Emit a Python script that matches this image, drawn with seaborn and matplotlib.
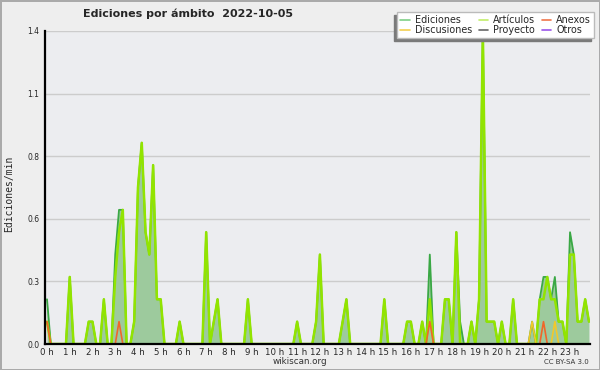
import numpy as np
import pandas as pd
import matplotlib
matplotlib.use("Agg")
import matplotlib.pyplot as plt
from matplotlib.lines import Line2D
from matplotlib.ticker import FixedLocator, MultipleLocator
import seaborn as sns

# ---- data: edits per minute, one value per 10-minute bin (6 per hour) ----
ediciones = [
    0.2, 0, 0, 0, 0, 0,          # 0 h
    0.3, 0, 0, 0, 0, 0.1,        # 1 h
    0.1, 0, 0, 0.2, 0, 0,        # 2 h
    0.4, 0.6, 0.6, 0, 0, 0.1,    # 3 h
    0.7, 0.9, 0.5, 0.4, 0.8, 0.2,  # 4 h
    0.2, 0, 0, 0, 0, 0.1,        # 5 h
    0, 0, 0, 0, 0, 0,            # 6 h
    0.5, 0, 0.1, 0.2, 0, 0,      # 7 h
    0, 0, 0, 0, 0, 0.2,          # 8 h
    0, 0, 0, 0, 0, 0,            # 9 h
    0, 0, 0, 0, 0, 0,            # 10 h
    0.1, 0, 0, 0, 0, 0.1,        # 11 h
    0.4, 0, 0, 0, 0, 0,          # 12 h
    0.1, 0.2, 0, 0, 0, 0,        # 13 h
    0, 0, 0, 0, 0, 0.2,          # 14 h
    0, 0, 0, 0, 0, 0.1,          # 15 h
    0.1, 0, 0, 0.1, 0, 0.4,      # 16 h
    0, 0, 0, 0.2, 0.2, 0,        # 17 h
    0.5, 0.1, 0, 0, 0.1, 0,      # 18 h
    0.2, 1.4, 0.1, 0.1, 0.1, 0,  # 19 h
    0.1, 0, 0, 0.2, 0, 0,        # 20 h
    0, 0, 0.1, 0, 0.2, 0.3,      # 21 h
    0.3, 0.2, 0.3, 0.1, 0.1, 0,  # 22 h
    0.5, 0.4, 0.1, 0.1, 0.2, 0.1,  # 23 h
]
articulos = [
    0.1, 0, 0, 0, 0, 0,
    0.3, 0, 0, 0, 0, 0.1,
    0.1, 0, 0, 0.2, 0, 0,
    0.3, 0.5, 0.6, 0, 0, 0.1,
    0.7, 0.9, 0.5, 0.4, 0.8, 0.2,
    0.2, 0, 0, 0, 0, 0.1,
    0, 0, 0, 0, 0, 0,
    0.5, 0, 0.1, 0.2, 0, 0,
    0, 0, 0, 0, 0, 0.2,
    0, 0, 0, 0, 0, 0,
    0, 0, 0, 0, 0, 0,
    0.1, 0, 0, 0, 0, 0.1,
    0.4, 0, 0, 0, 0, 0,
    0.1, 0.2, 0, 0, 0, 0,
    0, 0, 0, 0, 0, 0.2,
    0, 0, 0, 0, 0, 0.1,
    0.1, 0, 0, 0.1, 0, 0.2,
    0, 0, 0, 0.2, 0.2, 0,
    0.5, 0, 0, 0, 0.1, 0,
    0.2, 1.4, 0.1, 0.1, 0.1, 0,
    0.1, 0, 0, 0.2, 0, 0,
    0, 0, 0, 0, 0.2, 0.2,
    0.3, 0.2, 0.2, 0.1, 0.1, 0,
    0.4, 0.4, 0.1, 0.1, 0.2, 0.1,
]
anexos = [
    0.1, 0, 0, 0, 0, 0,
    0, 0, 0, 0, 0, 0,
    0, 0, 0, 0, 0, 0,
    0, 0.1, 0, 0, 0, 0,
    0, 0, 0, 0, 0, 0,
    0, 0, 0, 0, 0, 0,
    0, 0, 0, 0, 0, 0,
    0, 0, 0, 0, 0, 0,
    0, 0, 0, 0, 0, 0,
    0, 0, 0, 0, 0, 0,
    0, 0, 0, 0, 0, 0,
    0, 0, 0, 0, 0, 0,
    0, 0, 0, 0, 0, 0,
    0, 0, 0, 0, 0, 0,
    0, 0, 0, 0, 0, 0,
    0, 0, 0, 0, 0, 0,
    0, 0, 0, 0, 0, 0.1,
    0, 0, 0, 0, 0, 0,
    0, 0, 0, 0, 0, 0,
    0, 0, 0, 0, 0, 0,
    0, 0, 0, 0, 0, 0,
    0, 0, 0, 0, 0, 0.1,
    0, 0, 0, 0, 0, 0,
    0, 0, 0, 0, 0, 0,
]
discusiones = [
    0, 0, 0, 0, 0, 0,
    0, 0, 0, 0, 0, 0,
    0, 0, 0, 0, 0, 0,
    0, 0, 0, 0, 0, 0,
    0, 0, 0, 0, 0, 0,
    0, 0, 0, 0, 0, 0,
    0, 0, 0, 0, 0, 0,
    0, 0, 0, 0, 0, 0,
    0, 0, 0, 0, 0, 0,
    0, 0, 0, 0, 0, 0,
    0, 0, 0, 0, 0, 0,
    0, 0, 0, 0, 0, 0,
    0, 0, 0, 0, 0, 0,
    0, 0, 0, 0, 0, 0,
    0, 0, 0, 0, 0, 0,
    0, 0, 0, 0, 0, 0,
    0, 0, 0, 0, 0, 0,
    0, 0, 0, 0, 0, 0,
    0, 0, 0, 0, 0, 0,
    0, 0, 0, 0, 0, 0,
    0, 0, 0, 0, 0, 0,
    0, 0, 0.1, 0, 0, 0,
    0, 0, 0.1, 0, 0, 0,
    0, 0, 0, 0, 0, 0,
]
proyecto = [0] * 144
otros = [0] * 144

hour_labels = [f"{h} h" for h in range(24)]
y_ticks = [0.0, 0.28, 0.56, 0.84, 1.12, 1.4]
y_tick_labels = ["0.0", "0.3", "0.6", "0.8", "1.1", "1.4"]

colors = {
    "Ediciones": "#3aa845",
    "Artículos": "#92e400",
    "Anexos": "#f0662a",
    "Discusiones": "#f2c82a",
    "Proyecto": "#555555",
    "Otros": "#9b4dea",
}
legend_colors = {
    "Ediciones": "#7fcf86",
    "Artículos": "#c2ee6a",
    "Anexos": "#f0764a",
    "Discusiones": "#f4d050",
    "Proyecto": "#666666",
    "Otros": "#9b55ea",
}
fill_color = "#9dca9d"

bins = np.arange(len(ediciones))
df = pd.DataFrame({
    "bin": bins,
    "Ediciones": ediciones,
    "Artículos": articulos,
    "Anexos": anexos,
    "Discusiones": discusiones,
    "Proyecto": proyecto,
    "Otros": otros,
})

sns.set_style("white")
plt.rcParams["font.family"] = ["DejaVu Sans"]

fig = plt.figure(figsize=(6, 3.7), dpi=100, facecolor="#eeeeee",
                 edgecolor="#aaaaaa", linewidth=2)
ax = fig.add_axes([45 / 600, 1 - 344 / 370, 545 / 600, 313 / 370])
ax.set_facecolor("#ecedf0")

ax.fill_between(df["bin"], 0, df["Ediciones"], color=fill_color, lw=0, zorder=1)
sns.lineplot(data=df, x="bin", y="Ediciones", ax=ax, color=colors["Ediciones"],
             lw=1.3, zorder=2)
sns.lineplot(data=df, x="bin", y="Artículos", ax=ax, color=colors["Artículos"],
             lw=1.8, zorder=3)
for name in ["Anexos", "Discusiones", "Proyecto", "Otros"]:
    sns.lineplot(data=df, x="bin", y=name, ax=ax, color=colors[name],
                 lw=1.2, zorder=4)

ax.set_xlim(-0.53, 143.27)
ax.set_ylim(0, 1.4)

ax.xaxis.set_major_locator(FixedLocator(list(range(0, 144, 6))))
ax.set_xticklabels(hour_labels)
ax.xaxis.set_minor_locator(MultipleLocator(1))
ax.yaxis.set_major_locator(FixedLocator(y_ticks))
ax.set_yticklabels(y_tick_labels)
ax.yaxis.set_minor_locator(MultipleLocator(0.07))

ax.tick_params(axis="x", which="both", direction="out", length=3, width=1,
               color="black", labelsize=6.2, pad=0)
ax.tick_params(axis="y", which="both", direction="out", length=3, width=1,
               color="black", labelsize=5.5, pad=1)

ax.grid(axis="y", which="major", color="#cccccc", lw=1)
ax.grid(axis="x", visible=False)
ax.set_axisbelow(True)

for s in ["top", "right"]:
    ax.spines[s].set_visible(False)
for s in ["left", "bottom"]:
    ax.spines[s].set_color("black")
    ax.spines[s].set_linewidth(1.6)
    ax.spines[s].set_zorder(10)

ax.set_xlabel("")
ax.set_ylabel("")
fig.text(9 / 600, 1 - 194 / 370, "Ediciones/min", rotation=90, ha="center",
         va="center", fontsize=7, family="DejaVu Sans Mono")

fig.text(188 / 600, 1 - 14 / 370, "Ediciones por ámbito  2022-10-05",
         ha="center", va="center", fontsize=8, weight="bold")
fig.text(300 / 600, 1 - 362 / 370, "wikiscan.org", ha="center", va="center",
         fontsize=6.3, color="#333333")
fig.text(589 / 600, 1 - 362 / 370, "CC BY-SA 3.0", ha="right", va="center",
         fontsize=5, color="#333333")

order = ["Ediciones", "Discusiones", "Artículos", "Proyecto", "Anexos", "Otros"]
handles = [Line2D([], [], color=legend_colors[n], lw=1.2) for n in order]
fig.legend(handles, order, ncol=3, loc="upper right",
           bbox_to_anchor=(594 / 600, 1 - 12 / 370), borderaxespad=0,
           fontsize=6.9, frameon=True, fancybox=False, framealpha=1,
           facecolor="white", edgecolor="#bbbbbb",
           shadow={"ox": -2.2, "oy": -2.2, "color": "#7a7a7a", "alpha": 1},
           handlelength=1.0, handletextpad=0.5, columnspacing=0.7,
           labelspacing=0.0, borderpad=0.3)

fig.savefig("out.png", dpi=100, facecolor=fig.get_facecolor(),
            edgecolor=fig.get_edgecolor())
